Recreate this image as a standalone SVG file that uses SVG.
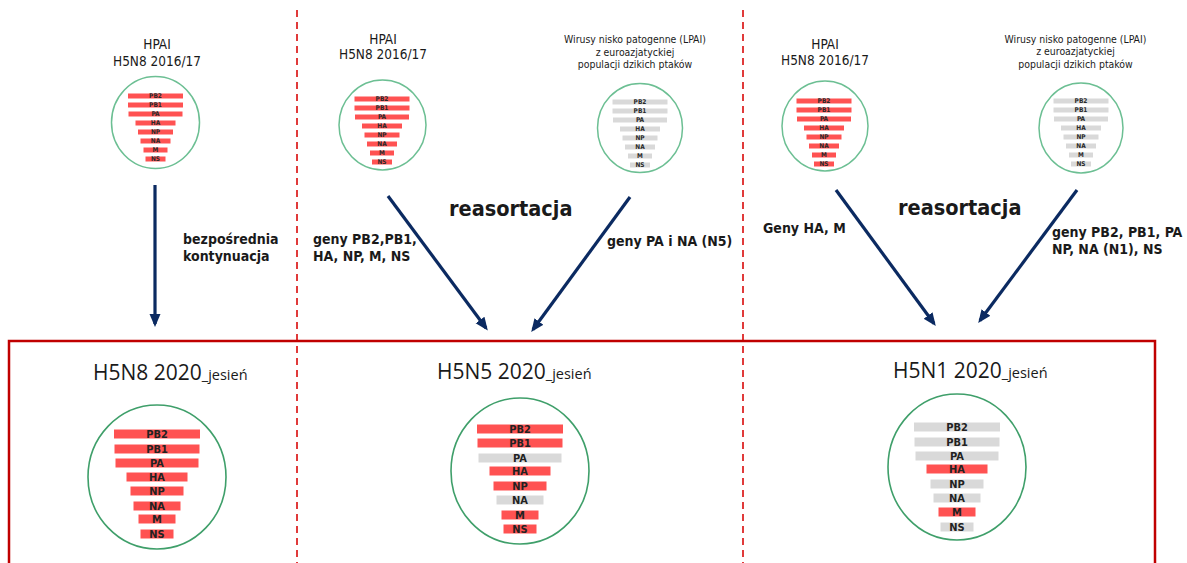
<svg xmlns="http://www.w3.org/2000/svg" xmlns:xlink="http://www.w3.org/1999/xlink" width="1187" height="563" viewBox="0 0 1187 563">
<style>
.bg{fill:#ffffff}
.sep{stroke:#e03a3a;stroke-width:2;stroke-dasharray:7 5;fill:none}
.box{stroke:#c00000;stroke-width:2.5;fill:none}
.ring{fill:none;stroke:#6cbf93;stroke-width:1.5}
.ringB{fill:none;stroke:#3f9f6a;stroke-width:1.6}
.arr{stroke:#0b2a61;stroke-width:3.2;fill:none}
.t{font-family:"DejaVu Sans Condensed","Liberation Sans",sans-serif;fill:#1a1a1a}
.hp{font-size:13.5px;text-anchor:middle}
.lp{font-size:10.4px;text-anchor:middle}
.lab{font-size:14px;font-weight:bold}
.rea{font-size:21.5px;font-weight:bold}
.ttl{font-family:"Open Sans","Liberation Sans",sans-serif;font-size:21px;fill:#1a1a1a}
.sub{font-size:14.5px}
.sb{font-family:"DejaVu Sans Condensed","Liberation Sans",sans-serif;font-size:6.5px;font-weight:bold;fill:#2a2a2a;text-anchor:middle}
.bb{font-family:"DejaVu Sans Condensed","Liberation Sans",sans-serif;font-size:11px;font-weight:bold;fill:#222;text-anchor:middle}
.r{fill:#ff5252}
.g{fill:#d9d9d9}
</style>
<defs>
<marker id="ah" markerUnits="userSpaceOnUse" markerWidth="14" markerHeight="12" refX="10" refY="5.5" orient="auto">
<path d="M0,0 L13,5.5 L0,11 z" fill="#0b2a61"/>
</marker>
<g id="smallBars">
<rect x="-27.5" y="-2.5" width="55" height="5"/>
<rect x="-27.5" y="6.5" width="55" height="5"/>
<rect x="-27" y="15.5" width="54" height="5"/>
<rect x="-20" y="24.5" width="40" height="5"/>
<rect x="-17.5" y="33.5" width="35" height="5"/>
<rect x="-15" y="42.5" width="30" height="5"/>
<rect x="-12" y="51.5" width="24" height="5"/>
<rect x="-10" y="60.5" width="20" height="5"/>
<text class="sb" x="0" y="2.3">PB2</text>
<text class="sb" x="0" y="11.3">PB1</text>
<text class="sb" x="0" y="20.3">PA</text>
<text class="sb" x="0" y="29.3">HA</text>
<text class="sb" x="0" y="38.3">NP</text>
<text class="sb" x="0" y="47.3">NA</text>
<text class="sb" x="0" y="56.3">M</text>
<text class="sb" x="0" y="65.3">NS</text>
</g>
</defs>
<rect class="bg" x="0" y="0" width="1187" height="563"/>

<g id="separators">
<line class="sep" x1="297" y1="10" x2="297" y2="563"/>
<line class="sep" x1="743" y1="10" x2="743" y2="563"/>
</g>
<g id="result-box">
<rect class="box" x="9" y="341" width="1146" height="240"/>
</g>

<g id="src-hpai-1">
<text class="t hp" x="157" y="49">HPAI</text>
<text class="t hp" x="157" y="66">H5N8 2016/17</text>
<ellipse class="ring" cx="155.5" cy="122.5" rx="44" ry="46"/>
<use xlink:href="#smallBars" href="#smallBars" class="r" transform="translate(155.5,96)"/>
</g>

<g id="src-hpai-2">
<text class="t hp" x="383" y="44">HPAI</text>
<text class="t hp" x="383" y="59">H5N8 2016/17</text>
<ellipse class="ring" cx="382.5" cy="125" rx="43.5" ry="45"/>
<use xlink:href="#smallBars" href="#smallBars" class="r" transform="translate(382,99)"/>
</g>

<g id="src-lpai-2">
<text class="t lp" x="635" y="43">Wirusy nisko patogenne (LPAI)</text>
<text class="t lp" x="635" y="56">z euroazjatyckiej</text>
<text class="t lp" x="635" y="68">populacji dzikich ptaków</text>
<ellipse class="ring" cx="640" cy="128" rx="42.5" ry="44.5"/>
<use xlink:href="#smallBars" href="#smallBars" class="g" transform="translate(640,102)"/>
</g>

<g id="src-hpai-3">
<text class="t hp" x="825" y="49">HPAI</text>
<text class="t hp" x="825" y="65">H5N8 2016/17</text>
<ellipse class="ring" cx="825" cy="126" rx="43" ry="45"/>
<use xlink:href="#smallBars" href="#smallBars" class="r" transform="translate(824,101)"/>
</g>

<g id="src-lpai-3">
<text class="t lp" x="1075.5" y="43">Wirusy nisko patogenne (LPAI)</text>
<text class="t lp" x="1075.5" y="55">z euroazjatyckiej</text>
<text class="t lp" x="1075.5" y="68">populacji dzikich ptaków</text>
<ellipse class="ring" cx="1081" cy="128" rx="42" ry="45"/>
<use xlink:href="#smallBars" href="#smallBars" class="g" transform="translate(1081,101)"/>
</g>

<g id="connectors">
<line class="arr" x1="155" y1="185" x2="155" y2="324" marker-end="url(#ah)"/>
<line class="arr" x1="388" y1="196" x2="486" y2="328" marker-end="url(#ah)"/>
<line class="arr" x1="630" y1="197" x2="533" y2="329.5" marker-end="url(#ah)"/>
<line class="arr" x1="836" y1="190" x2="934" y2="323.5" marker-end="url(#ah)"/>
<line class="arr" x1="1077" y1="190" x2="980" y2="320.5" marker-end="url(#ah)"/>
</g>

<g id="labels">
<text class="t lab" x="183" y="243.5">bezpośrednia</text>
<text class="t lab" x="183" y="261">kontynuacja</text>
<text class="t lab" x="313" y="244">geny PB2,PB1,</text>
<text class="t lab" x="313" y="261">HA, NP, M, NS</text>
<text class="t rea" x="449" y="216">reasortacja</text>
<text class="t lab" x="607" y="246">geny PA i NA (N5)</text>
<text class="t lab" x="763" y="233">Geny HA, M</text>
<text class="t rea" x="898" y="215">reasortacja</text>
<text class="t lab" x="1052" y="236.5">geny PB2, PB1, PA</text>
<text class="t lab" x="1052" y="254">NP, NA (N1), NS</text>
</g>

<g id="res-h5n8">
<text class="ttl" x="93" y="380">H5N8 2020<tspan class="sub">_jesień</tspan></text>
<ellipse class="ringB" cx="157" cy="477" rx="69" ry="72"/>
<rect class="r" x="114" y="429.5" width="86" height="9"/>
<rect class="r" x="114.5" y="444.5" width="85" height="9"/>
<rect class="r" x="115.5" y="458.5" width="83" height="9"/>
<rect class="r" x="126.5" y="472.5" width="61" height="9"/>
<rect class="r" x="130.5" y="486.5" width="53" height="9"/>
<rect class="r" x="133.5" y="501.5" width="47" height="9"/>
<rect class="r" x="138.5" y="514.5" width="37" height="9"/>
<rect class="r" x="140.5" y="529.5" width="33" height="9"/>
<text class="bb" x="157" y="438">PB2</text>
<text class="bb" x="157" y="453">PB1</text>
<text class="bb" x="157" y="467">PA</text>
<text class="bb" x="157" y="481">HA</text>
<text class="bb" x="157" y="495">NP</text>
<text class="bb" x="157" y="510">NA</text>
<text class="bb" x="157" y="523">M</text>
<text class="bb" x="157" y="538">NS</text>
</g>

<g id="res-h5n5">
<text class="ttl" x="437" y="379">H5N5 2020<tspan class="sub">_jesień</tspan></text>
<ellipse class="ringB" cx="520" cy="471" rx="69" ry="73"/>
<rect class="r" x="477" y="424.5" width="86" height="9"/>
<rect class="r" x="477.5" y="438.5" width="85" height="9"/>
<rect class="g" x="478.5" y="453.5" width="83" height="9"/>
<rect class="r" x="489.5" y="466.5" width="61" height="9"/>
<rect class="r" x="493.5" y="481.5" width="53" height="9"/>
<rect class="g" x="496.5" y="495.5" width="47" height="9"/>
<rect class="r" x="501.5" y="510.5" width="37" height="9"/>
<rect class="r" x="503.5" y="524.5" width="33" height="9"/>
<text class="bb" x="520" y="433">PB2</text>
<text class="bb" x="520" y="447">PB1</text>
<text class="bb" x="520" y="462">PA</text>
<text class="bb" x="520" y="475">HA</text>
<text class="bb" x="520" y="490">NP</text>
<text class="bb" x="520" y="504">NA</text>
<text class="bb" x="520" y="519">M</text>
<text class="bb" x="520" y="533">NS</text>
</g>

<g id="res-h5n1">
<text class="ttl" x="893" y="378">H5N1 2020<tspan class="sub">_jesień</tspan></text>
<ellipse class="ringB" cx="957" cy="467" rx="69" ry="73"/>
<rect class="g" x="914" y="422.5" width="86" height="9"/>
<rect class="g" x="914.5" y="437.5" width="85" height="9"/>
<rect class="g" x="915.5" y="451.5" width="83" height="9"/>
<rect class="r" x="926.5" y="464.5" width="61" height="9"/>
<rect class="g" x="930.5" y="479.5" width="53" height="9"/>
<rect class="g" x="933.5" y="493.5" width="47" height="9"/>
<rect class="r" x="938.5" y="507.5" width="37" height="9"/>
<rect class="g" x="940.5" y="522.5" width="33" height="9"/>
<text class="bb" x="957" y="431">PB2</text>
<text class="bb" x="957" y="446">PB1</text>
<text class="bb" x="957" y="460">PA</text>
<text class="bb" x="957" y="473">HA</text>
<text class="bb" x="957" y="488">NP</text>
<text class="bb" x="957" y="502">NA</text>
<text class="bb" x="957" y="516">M</text>
<text class="bb" x="957" y="531">NS</text>
</g>
</svg>
